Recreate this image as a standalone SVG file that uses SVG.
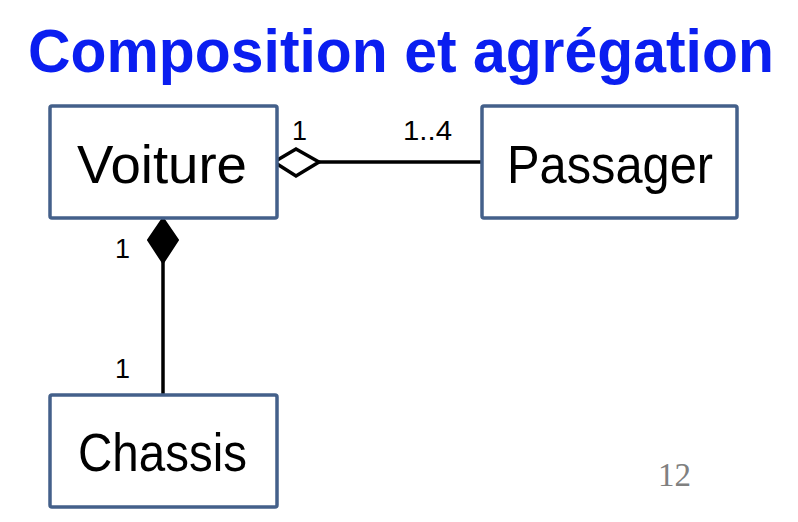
<svg xmlns="http://www.w3.org/2000/svg" width="798" height="522" viewBox="0 0 798 522">
<style>
.box{fill:#fff;stroke:#44608a;stroke-width:3.5}
.lbl{font-family:"Liberation Sans",Arial,sans-serif;font-size:53px;fill:#000}
.mult{font-family:"Liberation Sans",Arial,sans-serif;font-size:28px;fill:#000}
.con{stroke:#000;stroke-width:3.5;fill:none}
</style>
<rect width="798" height="522" fill="#fff"/>
<text transform="translate(28,72) scale(0.95,1)" x="0" y="0" font-family="'Liberation Sans',Arial,sans-serif" font-weight="bold" font-size="62" fill="#0a1ef0">Composition et agrégation</text>
<g id="connectors">
<line class="con" x1="319" y1="162" x2="482" y2="162"/>
<polygon class="con" fill="#fff" points="274,162 296,149 319,162 296,176"/>
<line class="con" x1="163" y1="262" x2="163" y2="394"/>
<polygon points="163,218 178,240 163,263 148,240" fill="#000" stroke="#000" stroke-width="2"/>
<text class="mult" x="292" y="140" textLength="15" lengthAdjust="spacingAndGlyphs">1</text>
<text class="mult" x="403" y="140" textLength="49" lengthAdjust="spacingAndGlyphs">1..4</text>
<text class="mult" x="115" y="258" textLength="15" lengthAdjust="spacingAndGlyphs">1</text>
<text class="mult" x="115" y="378" textLength="15" lengthAdjust="spacingAndGlyphs">1</text>
</g>
<g id="voiture">
<rect class="box" x="50" y="106" width="227" height="112" rx="2"/>
<text class="lbl" x="77" y="183" textLength="170" lengthAdjust="spacingAndGlyphs">Voiture</text>
</g>
<g id="passager">
<rect class="box" x="482" y="106" width="255" height="112" rx="2"/>
<text class="lbl" x="507" y="183" textLength="206" lengthAdjust="spacingAndGlyphs">Passager</text>
</g>
<g id="chassis">
<rect class="box" x="50" y="395" width="227" height="112" rx="2"/>
<text class="lbl" x="78" y="471" textLength="169" lengthAdjust="spacingAndGlyphs">Chassis</text>
</g>
<text x="658" y="486" font-family="'Liberation Serif','Times New Roman',serif" font-size="33" fill="#808080">12</text>
</svg>
